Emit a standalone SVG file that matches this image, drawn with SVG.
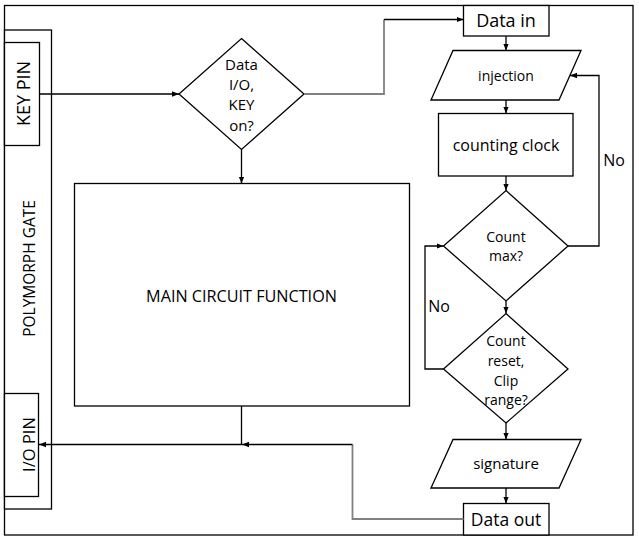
<svg xmlns="http://www.w3.org/2000/svg" width="639" height="540" viewBox="0 0 639 540">
<defs>
<marker id="ah" viewBox="0 0 10 10" refX="10" refY="5" markerWidth="7" markerHeight="7" markerUnits="userSpaceOnUse" orient="auto">
<path d="M0,1 L10,5 L0,9 Z" fill="#000"/>
</marker>
</defs>
<style>
.s{fill:#fff;stroke:#000;stroke-width:1.3}
.t{font-family:"Open Sans","Liberation Sans",Arial,sans-serif;fill:#000;text-anchor:middle}
.c{fill:none;stroke:#000;stroke-width:1.3}
.g{fill:none;stroke:#808080;stroke-width:1.8}
</style>
<rect x="0" y="0" width="639" height="540" fill="#fff"/>
<rect id="frame" x="4.5" y="5.5" width="628.5" height="529.5" fill="none" stroke="#000" stroke-width="1.3"/>
<g id="polymorph">
<rect class="s" x="4.5" y="30" width="47" height="479"/>
<text class="t" font-size="15.5" transform="translate(35,268.5) rotate(-90)">POLYMORPH GATE</text>
</g>
<g id="keypin">
<rect class="s" x="4.5" y="42.5" width="35" height="103"/>
<text class="t" font-size="18" transform="translate(30,93.5) rotate(-90)">KEY PIN</text>
</g>
<g id="iopin">
<rect class="s" x="4.5" y="393.5" width="34" height="103"/>
<text class="t" font-size="16.5" transform="translate(35,444.5) rotate(-90)">I/O PIN</text>
</g>
<g id="decision-key">
<polygon class="s" points="241.5,38.5 304,94 241.5,149.5 179,94"/>
<text class="t" font-size="15"><tspan x="241.5" y="70">Data</tspan><tspan x="241.5" y="90">I/O,</tspan><tspan x="241.5" y="110">KEY</tspan><tspan x="241.5" y="130.5">on?</tspan></text>
</g>
<g id="main">
<rect class="s" x="74.5" y="183.5" width="335" height="222.5"/>
<text class="t" font-size="16.2" x="241.5" y="302">MAIN CIRCUIT FUNCTION</text>
</g>
<g id="datain">
<rect class="s" x="463.5" y="5.5" width="85.5" height="30.5"/>
<text class="t" font-size="18" x="506" y="26.5">Data in</text>
</g>
<g id="injection">
<polygon class="s" points="453,50.5 581,50.5 559,100 431,100"/>
<text class="t" font-size="14" x="506" y="80.5">injection</text>
</g>
<g id="counting">
<rect class="s" x="438.5" y="113.5" width="134.5" height="62.5"/>
<text class="t" font-size="16" x="506" y="150.5">counting clock</text>
</g>
<g id="countmax">
<polygon class="s" points="506,190.5 568,246 506,301 443.5,246"/>
<text class="t" font-size="14"><tspan x="506" y="242">Count</tspan><tspan x="506" y="261">max?</tspan></text>
</g>
<g id="countreset">
<polygon class="s" points="506,313.5 568,369 506,423 443.5,369"/>
<text class="t" font-size="14"><tspan x="506" y="346">Count</tspan><tspan x="506" y="366">reset,</tspan><tspan x="506" y="385.5">Clip</tspan><tspan x="506" y="405">range?</tspan></text>
</g>
<g id="signature">
<polygon class="s" points="453,439.5 581,439.5 559,488 431,488"/>
<text class="t" font-size="15" x="506" y="468.5">signature</text>
</g>
<g id="dataout">
<rect class="s" x="463.5" y="503.5" width="85.5" height="31.5"/>
<text class="t" font-size="17.5" x="506" y="525.5">Data out</text>
</g>
<g id="connectors">
<line class="c" x1="39.5" y1="94" x2="179" y2="94" marker-end="url(#ah)"/>
<line class="c" x1="241.5" y1="149.5" x2="241.5" y2="183.5" marker-end="url(#ah)"/>
<polyline class="g" points="304,94 384,94 384,19.5"/>
<line class="c" x1="384" y1="19.5" x2="463.5" y2="19.5" marker-end="url(#ah)"/>
<line class="c" x1="506" y1="36" x2="506" y2="50.5" marker-end="url(#ah)"/>
<line class="c" x1="506" y1="100" x2="506" y2="113.5" marker-end="url(#ah)"/>
<line class="c" x1="506" y1="176" x2="506" y2="190.5" marker-end="url(#ah)"/>
<polyline class="c" points="568,246 599,246 599,75.5 570,75.5" marker-end="url(#ah)"/>
<line class="c" x1="506" y1="301" x2="506" y2="313.5" marker-end="url(#ah)"/>
<polyline class="c" points="443.5,369 425,369 425,246 443.5,246" marker-end="url(#ah)"/>
<line class="c" x1="506" y1="423" x2="506" y2="439.5" marker-end="url(#ah)"/>
<line class="c" x1="506" y1="488" x2="506" y2="503.5" marker-end="url(#ah)"/>
<polyline class="g" points="463.5,519 352.5,519 352.5,444.5"/>
<line class="c" x1="352.5" y1="444.5" x2="242" y2="444.5" marker-end="url(#ah)"/>
<polyline class="c" points="241.5,406 241.5,444.5 39,444.5" marker-end="url(#ah)"/>
<text class="t" font-size="16" x="614" y="166">No</text>
<text class="t" font-size="16" x="439" y="312">No</text>
</g>
</svg>
